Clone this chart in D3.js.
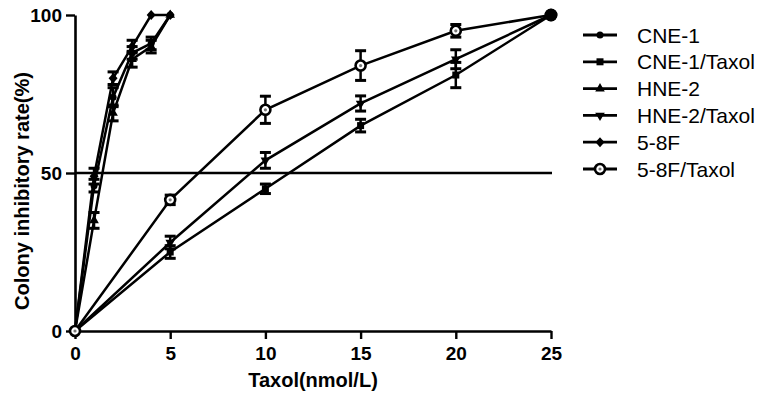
<!DOCTYPE html>
<html>
<head>
<meta charset="utf-8">
<script src="https://cdn.jsdelivr.net/npm/d3@7"></script>
<style>
    body { margin: 0; background: #fff; }
    text { font-family: Arial, "Liberation Sans", sans-serif; }
</style>
</head>
<body>
<div id="chart"></div>
<script>
// data
var steepX = [0, 1, 2, 3, 4, 5];
var taxolX = [0, 5, 10, 15, 20, 25];

var cne1 = [0, 46, 74, 88, 91, 100];
var cne1Err = [0, 2, 3, 2, 2, 0];
var hne2 = [0, 35, 69, 86, 90, 100];
var hne2Err = [0, 2.5, 2.5, 2.5, 2, 0];
var f58 = [0, 49, 80, 90, 100, 100];
var f58Err = [0, 2.5, 2, 2, 0, 0];

var cne1Taxol = [0, 25, 45, 65, 81, 100];
var cne1TaxolErr = [0, 2, 1.5, 2, 4, 0];
var hne2Taxol = [0, 28, 54, 72, 86, 100];
var hne2TaxolErr = [0, 2, 2.5, 2.4, 3, 0];
var f58Taxol = [0, 41.5, 70, 84, 95, 100];
var f58TaxolErr = [0, 1.5, 4.3, 4.7, 2, 0];

var seriesNames = ["CNE-1", "CNE-1/Taxol", "HNE-2", "HNE-2/Taxol", "5-8F", "5-8F/Taxol"];
var xTicks = [0, 5, 10, 15, 20, 25];
var yTicks = [0, 50, 100];
var refLine = 50;

var svgWidth = 761;
var svgHeight = 399;

var margin = {
    top: 15,
    right: 210,
    bottom: 68,
    left: 75
};

var width = svgWidth - margin.left - margin.right;
var height = svgHeight - margin.top - margin.bottom;

var svg = d3.select("#chart")
    .append("svg")
    .attr("width", svgWidth)
    .attr("height", svgHeight)
    .style("background", "#fff");

var chartGroup = svg.append("g")
    .attr("transform", `translate(${margin.left}, ${margin.top})`);

// scales
var xLinearScale = d3.scaleLinear()
    .domain([0, 25])
    .range([0, width]);

var yLinearScale = d3.scaleLinear()
    .domain([0, 100])
    .range([height, 0]);

// series table built from the arrays
var series = [
    { name: seriesNames[0], x: steepX, y: cne1, err: cne1Err, shape: "circle" },
    { name: seriesNames[1], x: taxolX, y: cne1Taxol, err: cne1TaxolErr, shape: "square" },
    { name: seriesNames[2], x: steepX, y: hne2, err: hne2Err, shape: "triangle" },
    { name: seriesNames[3], x: taxolX, y: hne2Taxol, err: hne2TaxolErr, shape: "triangleDown" },
    { name: seriesNames[4], x: steepX, y: f58, err: f58Err, shape: "diamond" },
    { name: seriesNames[5], x: taxolX, y: f58Taxol, err: f58TaxolErr, shape: "ring" }
];

series.forEach(function (s) {
    s.points = s.x.map(function (xv, i) {
        return { x: xv, y: s.y[i], err: s.err[i] };
    });
});

// draw a marker of a given shape into a group
function drawMarker(g, shape) {
    if (shape == "circle") {
        g.append("circle").attr("r", 3.5).attr("fill", "#000");
    } else if (shape == "square") {
        g.append("rect").attr("x", -3.5).attr("y", -3.5)
            .attr("width", 7).attr("height", 7).attr("fill", "#000");
    } else if (shape == "triangle") {
        g.append("path").attr("d", d3.symbol(d3.symbolTriangle, 40)()).attr("fill", "#000");
    } else if (shape == "triangleDown") {
        g.append("path").attr("d", d3.symbol(d3.symbolTriangle, 40)())
            .attr("transform", "rotate(180)").attr("fill", "#000");
    } else if (shape == "diamond") {
        g.append("path").attr("d", "M0,-5L4.5,0L0,5L-4.5,0Z").attr("fill", "#000");
    } else if (shape == "ring") {
        g.append("circle").attr("r", 5).attr("fill", "#fff")
            .attr("stroke", "#000").attr("stroke-width", 2.6);
        g.append("circle").attr("r", 1.6).attr("fill", "#777");
    }
}

// axes
var xAxis = d3.axisBottom(xLinearScale)
    .tickValues(xTicks)
    .tickSize(8)
    .tickSizeOuter(0)
    .tickPadding(8);

var yAxis = d3.axisLeft(yLinearScale)
    .tickValues(yTicks)
    .tickSize(9)
    .tickSizeOuter(0)
    .tickPadding(4);

var xAxisGroup = chartGroup.append("g")
    .attr("transform", `translate(0, ${height})`)
    .call(xAxis);

var yAxisGroup = chartGroup.append("g")
    .call(yAxis);

[xAxisGroup, yAxisGroup].forEach(function (g) {
    g.select(".domain").attr("stroke", "#000").attr("stroke-width", 2.6);
    g.selectAll(".tick line").attr("stroke", "#000").attr("stroke-width", 2.4);
    g.selectAll(".tick text")
        .attr("fill", "#000")
        .attr("font-size", 19)
        .attr("font-weight", "bold")
        .style("font-family", "Arial, 'Liberation Sans', sans-serif");
});
yAxisGroup.selectAll(".tick text").attr("dy", "0.35em");

// 50% reference line
chartGroup.append("line")
    .attr("x1", xLinearScale(0))
    .attr("x2", xLinearScale(25) + 1)
    .attr("y1", yLinearScale(refLine))
    .attr("y2", yLinearScale(refLine))
    .attr("stroke", "#000")
    .attr("stroke-width", 2.4);

// lines
var line = d3.line()
    .x(function (d) { return xLinearScale(d.x); })
    .y(function (d) { return yLinearScale(d.y); });

chartGroup.selectAll(".series-line")
    .data(series)
    .enter()
    .append("path")
    .attr("class", "series-line")
    .attr("d", function (d) { return line(d.points); })
    .attr("fill", "none")
    .attr("stroke", "#000")
    .attr("stroke-width", 2.5);

// error bars + markers
series.forEach(function (s) {
    var g = chartGroup.append("g");
    var pts = g.selectAll("g")
        .data(s.points)
        .enter()
        .append("g")
        .attr("transform", function (d) {
            return `translate(${xLinearScale(d.x)}, ${yLinearScale(d.y)})`;
        });

    pts.filter(function (d) { return d.err > 0; })
        .each(function (d) {
            var e = d3.select(this);
            var top = yLinearScale(d.y + d.err) - yLinearScale(d.y);
            var bot = yLinearScale(d.y - d.err) - yLinearScale(d.y);
            e.append("line").attr("y1", top).attr("y2", bot)
                .attr("stroke", "#000").attr("stroke-width", 2.5);
            e.append("line").attr("x1", -5.5).attr("x2", 5.5).attr("y1", top).attr("y2", top)
                .attr("stroke", "#000").attr("stroke-width", 3);
            e.append("line").attr("x1", -5.5).attr("x2", 5.5).attr("y1", bot).attr("y2", bot)
                .attr("stroke", "#000").attr("stroke-width", 3);
        });

    pts.each(function (d) {
        drawMarker(d3.select(this), s.shape);
    });
});

// big dot at the shared end point
chartGroup.append("circle")
    .attr("cx", xLinearScale(taxolX[5]))
    .attr("cy", yLinearScale(f58Taxol[5]))
    .attr("r", 6.5)
    .attr("fill", "#000");

// axis labels
chartGroup.append("text")
    .attr("transform", "rotate(-90)")
    .attr("y", 29 - margin.left)
    .attr("x", -(191 - margin.top))
    .attr("text-anchor", "middle")
    .attr("font-size", 20)
    .attr("font-weight", "bold")
    .text("Colony inhibitory rate(%)");

chartGroup.append("text")
    .attr("x", width / 2)
    .attr("y", height + 56)
    .attr("text-anchor", "middle")
    .attr("font-size", 20)
    .attr("font-weight", "bold")
    .text("Taxol(nmol/L)");

// legend
var legend = svg.append("g")
    .attr("transform", "translate(583, 35)");

var legendRows = legend.selectAll("g")
    .data(series)
    .enter()
    .append("g")
    .attr("transform", function (d, i) { return `translate(0, ${i * 26.8})`; });

legendRows.append("line")
    .attr("x1", 0)
    .attr("x2", 34)
    .attr("stroke", "#000")
    .attr("stroke-width", 2.8);

legendRows.each(function (d) {
    var m = d3.select(this).append("g").attr("transform", "translate(17, 0)");
    drawMarker(m, d.shape);
});

legendRows.append("text")
    .attr("x", 54)
    .attr("y", 7.5)
    .attr("font-size", 21)
    .attr("fill", "#000")
    .text(function (d) { return d.name; });
</script>
</body>
</html>
